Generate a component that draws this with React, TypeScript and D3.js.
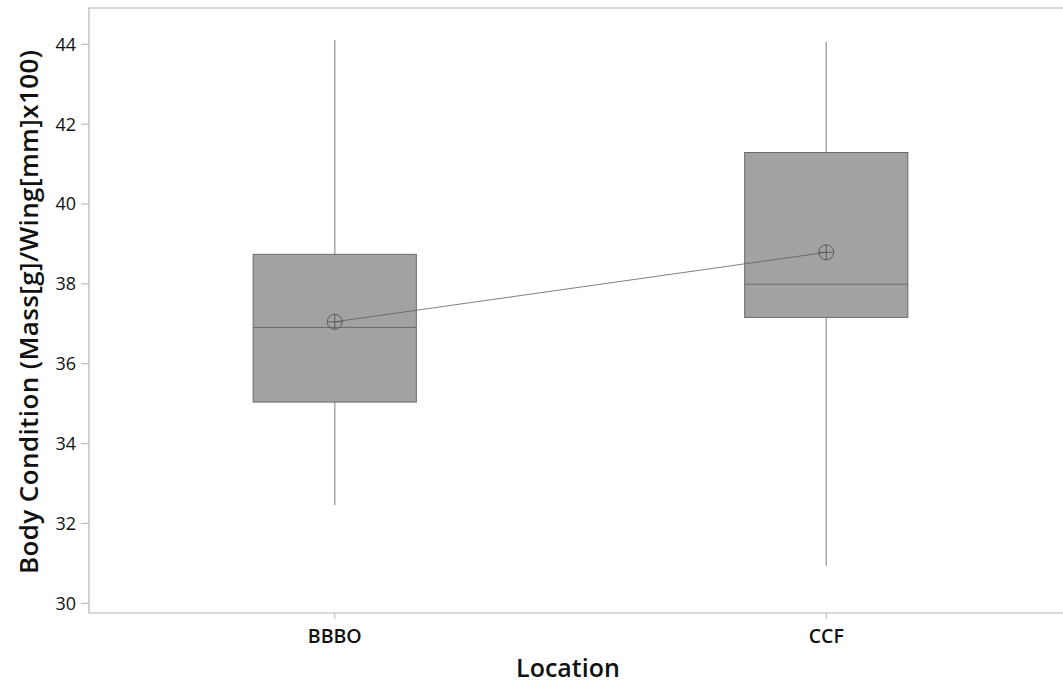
import React from "react";
import * as d3 from "d3";

const categories = ["BBBO", "CCF"];
const whiskerLow = [32.46, 30.94];
const q1 = [35.04, 37.16];
const median = [36.91, 37.99];
const q3 = [38.74, 41.29];
const whiskerHigh = [44.11, 44.06];
const means = [37.05, 38.79];
const yTicks = [30, 32, 34, 36, 38, 40, 42, 44];

const W = 1063;
const H = 686;
const left = 89;
const top = 8;
const bottom = 613;
const right = 1072;

export default function App() {
  const y = d3.scaleLinear().domain([30, 44]).range([603.3, 44.3]);
  const x = d3.scalePoint<string>().domain(categories).range([left, right]).padding(0.5);
  const step = x.step();
  const boxW = step * 0.332;
  const font = "'Open Sans', 'Noto Sans', sans-serif";
  const line = d3
    .line<number>()
    .x((_, i) => x(categories[i])!)
    .y((d) => y(d));

  return (
    <svg
      width={W}
      height={H}
      style={{ position: "absolute", left: 0, top: 0, background: "#fff" }}
    >
      {/* frame */}
      <path
        d={`M${right},${top}H${left}V${bottom}H${right}`}
        fill="none"
        stroke="#b4b4b4"
        strokeWidth={1.2}
      />
      {/* y ticks */}
      {yTicks.map((t) => (
        <g key={t}>
          <line x1={81} x2={left} y1={y(t)} y2={y(t)} stroke="#b4b4b4" strokeWidth={1} />
          <text
            x={76}
            y={y(t)}
            dy="0.36em"
            textAnchor="end"
            fontFamily={font}
            fontSize={18}
            fill="#111"
          >
            {t}
          </text>
        </g>
      ))}
      {/* x ticks */}
      {categories.map((c) => (
        <g key={c}>
          <line x1={x(c)} x2={x(c)} y1={bottom} y2={619} stroke="#b4b4b4" strokeWidth={1} />
          <text
            x={x(c)}
            y={642.5}
            textAnchor="middle"
            fontFamily={font}
            fontSize={19.5}
            fontWeight={600}
            fill="#111"
          >
            {c}
          </text>
        </g>
      ))}
      {/* boxes */}
      {categories.map((c, i) => {
        const cx = x(c)!;
        return (
          <g key={c}>
            <line x1={cx} x2={cx} y1={y(whiskerHigh[i])} y2={y(q3[i])} stroke="#a8a8a8" strokeWidth={1.5} />
            <line x1={cx} x2={cx} y1={y(q1[i])} y2={y(whiskerLow[i])} stroke="#a8a8a8" strokeWidth={1.5} />
            <rect
              x={cx - boxW / 2}
              y={y(q3[i])}
              width={boxW}
              height={y(q1[i]) - y(q3[i])}
              fill="#a2a2a2"
              stroke="#6a6a6a"
              strokeWidth={1}
            />
            <line
              x1={cx - boxW / 2}
              x2={cx + boxW / 2}
              y1={y(median[i])}
              y2={y(median[i])}
              stroke="#6a6a6a"
              strokeWidth={1}
            />
          </g>
        );
      })}
      {/* mean connect line */}
      <path d={line(means)!} fill="none" stroke="#606060" strokeWidth={0.8} />
      {categories.map((c, i) => {
        const cx = x(c)!;
        const cy = y(means[i]);
        const r = 7.5;
        return (
          <g key={c} stroke="#555" strokeWidth={0.9} fill="none">
            <circle cx={cx} cy={cy} r={r} />
            <line x1={cx - r} x2={cx + r} y1={cy} y2={cy} />
            <line x1={cx} x2={cx} y1={cy - r} y2={cy + r} />
          </g>
        );
      })}
      {/* axis titles */}
      <text
        x={568}
        y={677}
        textAnchor="middle"
        fontFamily={font}
        fontSize={25}
        fontWeight={600}
        fill="#111"
      >
        Location
      </text>
      <text
        transform={`translate(38,312) rotate(-90)`}
        textAnchor="middle"
        fontFamily={font}
        fontSize={26}
        fontWeight={600}
        fill="#111"
        textLength={524}
        lengthAdjust="spacing"
      >
        Body Condition (Mass[g]/Wing[mm]x100)
      </text>
    </svg>
  );
}
